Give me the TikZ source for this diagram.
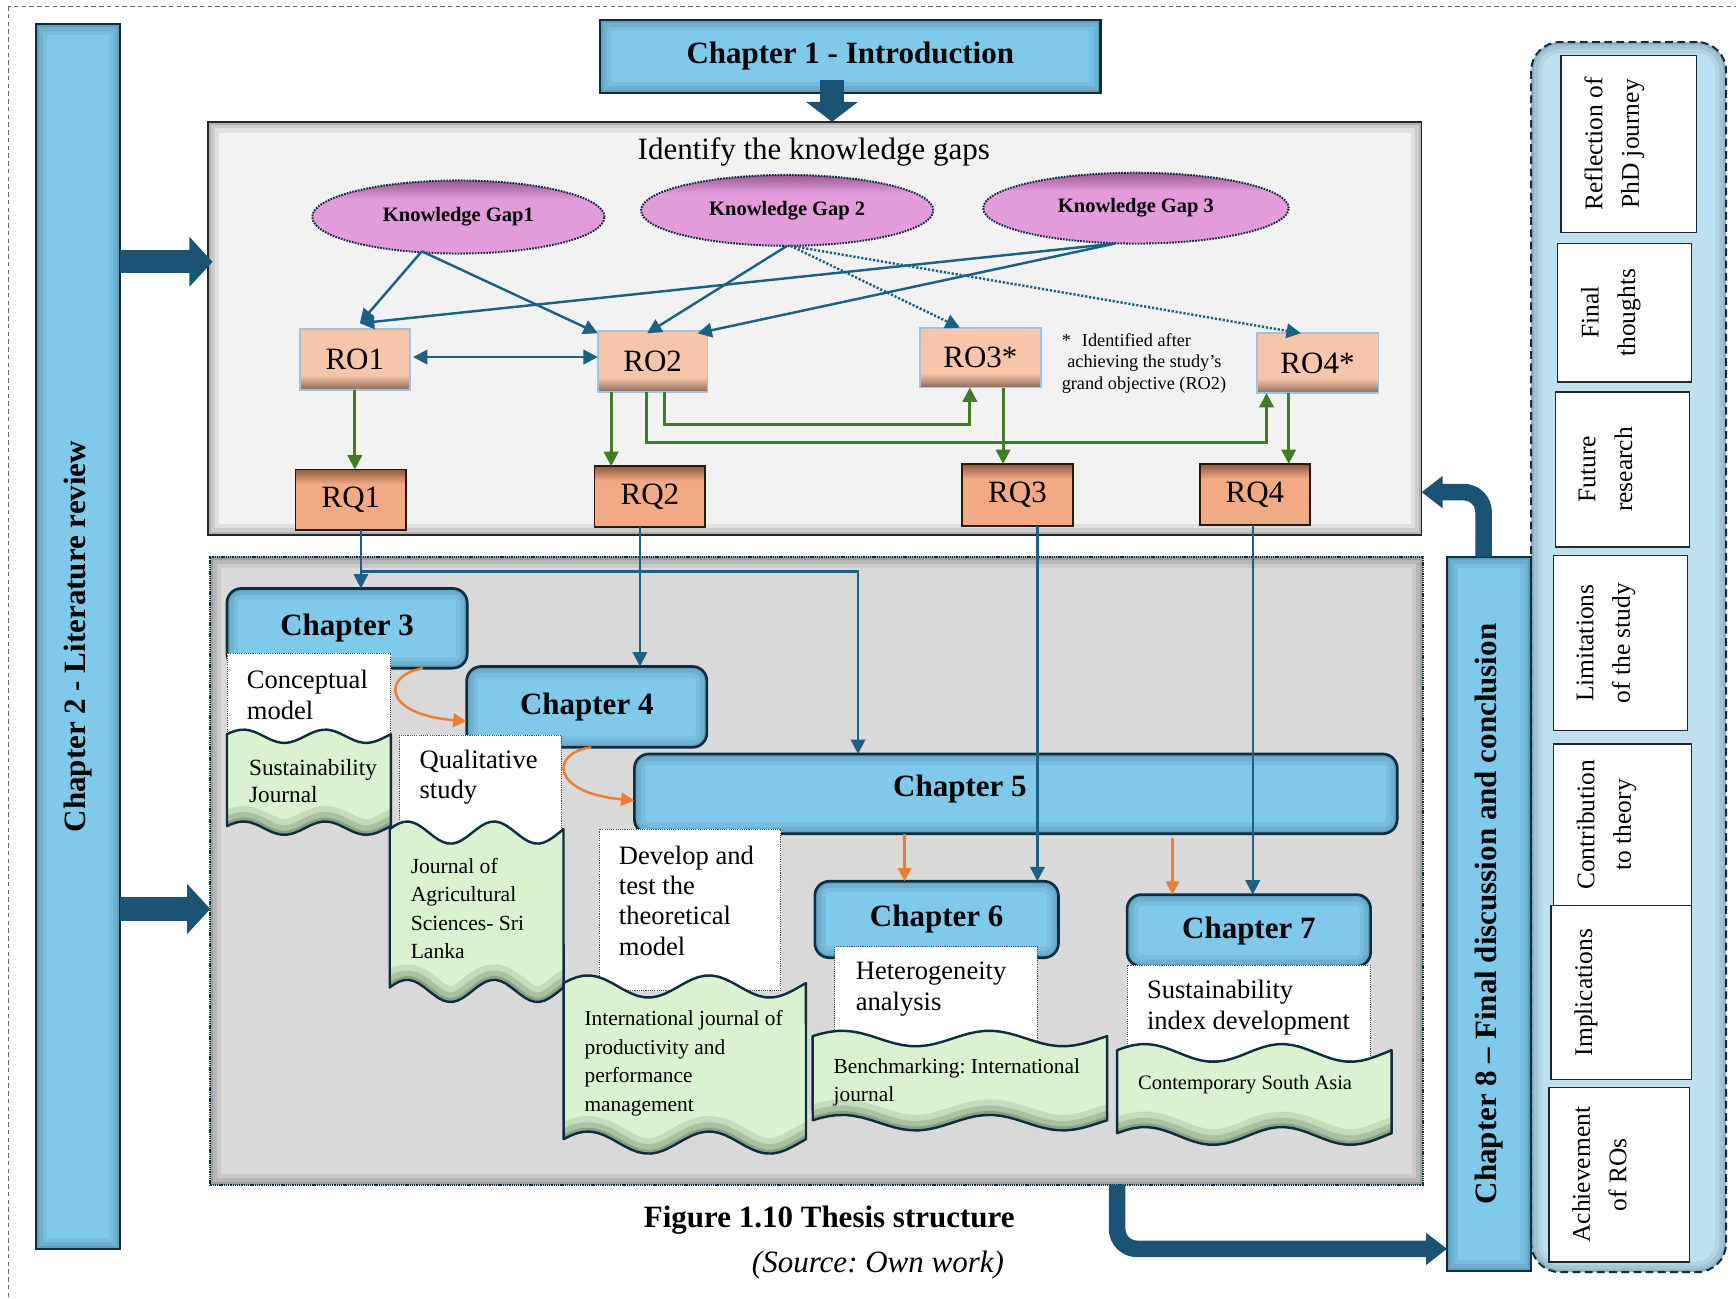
\documentclass[tikz,border=0pt]{standalone}
\usepackage{fontspec}
\setmainfont{Liberation Serif}
\usepackage{graphicx}
\usetikzlibrary{arrows.meta,shapes.geometric,calc}
\frenchspacing

\definecolor{chapblue}{HTML}{7FC9EA}
\definecolor{navy}{HTML}{0F2D40}
\definecolor{lineblue}{HTML}{1B6184}
\definecolor{arrgreen}{HTML}{3E7D22}
\definecolor{orng}{HTML}{ED7D31}
\definecolor{kgpink}{HTML}{E29BDB}
\definecolor{kgdark}{HTML}{9A5A94}
\definecolor{ropeach}{HTML}{F6C5AA}
\definecolor{robrown}{HTML}{8C6A58}
\definecolor{rqsalmon}{HTML}{F2AA84}
\definecolor{rqbrown}{HTML}{8A5A40}
\definecolor{docgreen}{HTML}{D9F2D0}
\definecolor{docdark}{HTML}{2F4A2C}
\definecolor{panelgray}{HTML}{F2F2F2}
\definecolor{panelgraydark}{HTML}{D9D9D9}
\definecolor{rpblue}{HTML}{BEE1F2}
\definecolor{blockblue}{HTML}{1A5373}
\definecolor{roedge}{HTML}{9DC3E6}

% vertical shadings (0bp = bottom, path box spans 25bp..75bp)
\pgfdeclareverticalshading{roshade}{100bp}{color(0bp)=(robrown); color(25bp)=(robrown); color(37bp)=(ropeach); color(100bp)=(ropeach)}
\pgfdeclareverticalshading{rqshade}{100bp}{color(0bp)=(rqsalmon); color(63bp)=(rqsalmon); color(75bp)=(rqbrown); color(100bp)=(rqbrown)}
\pgfdeclareverticalshading{kgshade}{100bp}{color(0bp)=(kgpink); color(62bp)=(kgpink); color(75bp)=(kgdark); color(100bp)=(kgdark)}

\tikzset{
  every node/.style={inner sep=0pt, outer sep=0pt},
  sz/.style 2 args={minimum width=#1pt, minimum height=#2pt},
  inshadow/.style 2 args={path picture={
      \draw[#1, solid, opacity=.07, line width=20pt, rounded corners=#2]
        (path picture bounding box.south west) rectangle (path picture bounding box.north east);
      \draw[#1, solid, opacity=.09, line width=12pt, rounded corners=#2]
        (path picture bounding box.south west) rectangle (path picture bounding box.north east);
      \draw[#1, solid, opacity=.12, line width=5pt, rounded corners=#2]
        (path picture bounding box.south west) rectangle (path picture bounding box.north east);}},
  sidebar/.style={draw=navy, line width=2pt, fill=chapblue,
      font=\fontsize{28}{32}\selectfont\bfseries, inshadow={navy}{0pt}},
  panel/.style={draw=black!85, line width=1.5pt, fill=panelgray, inshadow={black}{0pt}},
  botpanel/.style={draw=navy, line width=2pt, dash pattern=on 1.2pt off 0.8pt,
      fill=panelgraydark, inshadow={black}{0pt}},
  rpanel/.style={fill=rpblue, draw=navy, line width=1.8pt, dash pattern=on 7pt off 4pt,
      rounded corners=26pt, inshadow={navy}{26pt}},
  chap/.style={draw=navy, line width=2.4pt, fill=chapblue, rounded corners=13pt,
      font=\fontsize{28}{32}\selectfont\bfseries, inshadow={navy}{13pt}},
  kgEll/.style={ellipse, shade, shading=kgshade, draw=navy, line width=1.8pt,
      dash pattern=on 1.5pt off 1.1pt, font=\fontsize{18.5}{22}\selectfont\bfseries},
  roBox/.style={shade, shading=roshade, draw=roedge, line width=1.6pt,
      font=\fontsize{28}{32}\selectfont},
  rqBox/.style={shade, shading=rqshade, draw=black!80!brown, line width=1.6pt,
      font=\fontsize{28}{32}\selectfont},
  wbox/.style={fill=white, draw=black!70, line width=0.8pt, dash pattern=on 1pt off 1pt},
  tbig/.style={font=\fontsize{24}{27.5}\selectfont, align=left, anchor=west},
  tsm/.style={font=\fontsize{19.3}{25.7}\selectfont, align=left, anchor=west},
  itm/.style={fill=white, draw=black!85, line width=1.2pt},
  itxt/.style={font=\fontsize{23}{33}\selectfont, align=center, rotate=90, anchor=north},
  blueArr/.style={draw=lineblue, line width=2.2pt, -{Triangle[length=13pt,width=13pt]}},
  dotArr/.style={blueArr, dash pattern=on 2pt off 1.6pt},
  greenArr/.style={draw=arrgreen, line width=2.6pt, -{Triangle[length=13pt,width=13pt]}},
  orangeArr/.style={draw=orng, line width=2.2pt, -{Triangle[length=12pt,width=12pt]}},
  fatArr/.style={draw=blockblue, line width=21pt, -{Triangle[length=21pt,width=44pt]}},
  bentArr/.style={draw=blockblue, line width=15pt, rounded corners=18pt,
      -{Triangle[length=19pt,width=28pt]}},
}

% publication "double wave" banner: x0, x1, top wave level, bottom wave level, amplitude
\newcommand{\pubwave}[5]{%
  \begin{scope}
    \clip plot[domain=0:1,samples=37,variable=\t] ({#1+\t*(#2-#1)},{#3-#5*cos(720*(\t-0.1))})
      -- plot[domain=1:0,samples=37,variable=\t] ({#1+\t*(#2-#1)},{#4-#5*cos(720*(\t-0.1))}) -- cycle;
    \fill[docgreen] (#1-5,#3-3*#5) rectangle (#2+5,#4+3*#5);
    \foreach \w/\o in {28/0.13,17/0.18,7/0.25}{
      \draw[docdark, line width=\w pt, opacity=\o]
        plot[domain=-0.05:1.05,samples=41,variable=\t] ({#1+\t*(#2-#1)},{#4-#5*cos(720*(\t-0.1))});
    }
  \end{scope}
  \draw[navy, line width=2.2pt, line join=round]
    plot[domain=0:1,samples=37,variable=\t] ({#1+\t*(#2-#1)},{#3-#5*cos(720*(\t-0.1))})
    -- plot[domain=1:0,samples=37,variable=\t] ({#1+\t*(#2-#1)},{#4-#5*cos(720*(\t-0.1))}) -- cycle;
}

\begin{document}
\begin{tikzpicture}[x=1pt,y=-1pt]
\useasboundingbox (0,0) rectangle (1568,1173);
\clip (0,0) rectangle (1568,1173);
\fill[white] (0,0) rectangle (1568,1173);
\draw[black!60, line width=0.9pt, dash pattern=on 4pt off 3pt] (7.5,5.5) rectangle (1600,1200);

% ---------- frame elements ----------
\node[sidebar, sz={76}{1106}] (ch2) at (70.5,575) {\rotatebox{90}{Chapter 2 - Literature review}};
\node[panel, sz={1096}{373}] (top) at (736,296.5) {};
\node[botpanel, sz={1095}{567}] (bot) at (737.5,786.5) {};
\node[rpanel, sz={176}{1111}] (rp) at (1471,593.5) {};
\node[sidebar, sz={76}{645}] (ch8) at (1345,825.5) {\rotatebox{90}{Chapter 8 – Final discussion and conclusion}};
\node[sidebar, sz={452}{66}] (ch1) at (768,51) {Chapter 1 - Introduction};

% ---------- fat arrows ----------
\coordinate (in1) at ([xshift=4pt,yshift=60pt]top.west);
\coordinate (in2) at ([yshift=-34.5pt]bot.west);
\draw[fatArr] (ch2.east |- in1) -- (in1);
\draw[fatArr] (ch2.east |- in2) -- (in2);
\draw[fatArr, line width=22pt, -{Triangle[length=18pt,width=46pt]}]
  ([xshift=-16.5pt,yshift=12pt]ch1.south) -- ([xshift=-16.5pt]ch1.south |- top.north);
\draw[bentArr] ([xshift=-5pt]ch8.north) |- ([yshift=38.5pt]top.south east);
\draw[bentArr] ([xshift=271.5pt]bot.south) |- ([yshift=-302.5pt]ch8.west);

% ---------- knowledge gaps, objectives, questions ----------
\node[font=\fontsize{28}{32}\selectfont] (gaps) at (735,137) {Identify the knowledge gaps};
\node[kgEll, sz={264}{66}] (kg1) at (414,196) {Knowledge Gap1};
\node[kgEll, sz={264}{64}] (kg2) at (711,190) {Knowledge Gap 2};
\node[kgEll, sz={276}{64}] (kg3) at (1026,188) {Knowledge Gap 3};

\node[roBox, sz={99}{55}] (ro1) at (320.5,324.5) {RO1};
\node[roBox, sz={99}{55}] (ro2) at (589.5,326.5) {RO2};
\node[roBox, sz={109}{54}] (ro3) at (885.5,323) {RO3*};
\node[roBox, sz={110}{54}] (ro4) at (1190,328) {RO4*};

\node[rqBox, sz={100}{55}] (rq1) at (317,451.5) {RQ1};
\node[rqBox, sz={100}{55}] (rq2) at (587,448.5) {RQ2};
\node[rqBox, sz={100}{56}] (rq3) at (919,447) {RQ3};
\node[rqBox, sz={99}{55}] (rq4) at (1133.5,446.5) {RQ4};

\node[font=\fontsize{16.5}{19.5}\selectfont, align=left, anchor=west] (note) at (959,328)
  {*\hspace{10pt}Identified after\\\hspace{5pt}achieving the study’s\\grand objective (RO2)};

\coordinate (f1) at ([xshift=-33pt,yshift=2pt]kg1.south);
\coordinate (f2) at ([xshift=3pt]kg2.south);
\coordinate (f3) at ([xshift=-19pt]kg3.south);
\draw[blueArr] (f1) -- ([xshift=4.5pt,yshift=5pt]ro1.north);
\draw[blueArr] (f1) -- ([yshift=-2pt]ro2.north west);
\draw[blueArr] (f3) -- ([xshift=4.5pt,yshift=5pt]ro1.north);
\draw[blueArr] (f3) -- ([xshift=-9pt,yshift=-2pt]ro2.north east);
\draw[blueArr] (kg2.south) -- ([xshift=-5pt,yshift=-2pt]ro2.north);
\draw[dotArr] (f2) -- ([xshift=-18.5pt]ro3.north);
\draw[dotArr] (f2) -- ([xshift=-15pt]ro4.north);
\draw[blueArr, {Triangle[length=13pt,width=13pt]}-{Triangle[length=13pt,width=13pt]}]
  ([xshift=3pt,yshift=2pt]ro1.east) -- ([yshift=2pt]ro1.east -| ro2.west);

\draw[greenArr] (ro1.south) -- (ro1.south |- rq1.north);
\draw[greenArr] ([xshift=-37.5pt]ro2.south) -- ([xshift=-37.5pt]ro2.south |- rq2.north);
\draw[greenArr] ([xshift=20.5pt]ro3.south) -- ([xshift=20.5pt]ro3.south |- rq3.north);
\draw[greenArr] ([xshift=-26pt]ro4.south) -- ([xshift=-26pt]ro4.south |- rq4.north);
\draw[greenArr] ([xshift=11pt]ro2.south) -- ++(0,29.5) -| ([xshift=-9.5pt]ro3.south);
\draw[greenArr] ([xshift=-5.5pt]ro2.south) -- ++(0,46) -| ([xshift=-46pt]ro4.south);

% ---------- chapters 3 to 7 with their publications ----------
\node[chap, sz={217}{72}] (ch3) at (313.5,567.5) {Chapter 3};
\node[wbox, sz={148}{90}, anchor=north west] (w3) at (205,590) {};
\pubwave{205}{353}{665}{748}{6}
\node[tbig] (t3) at (223,627.5) {Conceptual\\model};
\node[tsm, font=\fontsize{21}{25}\selectfont] (p3) at (225,705.5) {Sustainability\\Journal};

\node[chap, sz={217}{73}] (ch4) at (530,638.5) {Chapter 4};
\node[wbox, sz={146}{106}, anchor=north west] (w4) at (361,664) {};
\pubwave{352}{509}{752}{895}{10}
\node[tbig] (t4) at (379,702) {Qualitative\\study};
\node[tsm, font=\fontsize{19.5}{25.7}\selectfont] (p4) at (371,820.5) {Journal of\\Agricultural\\Sciences- Sri\\Lanka};

\node[chap, sz={689}{72}] (ch5) at (917.5,717) {};
\node[font=\fontsize{28}{32}\selectfont\bfseries] (ch5t) at (867,713) {Chapter 5};
\node[wbox, sz={164}{146}, anchor=north west] (w5) at (541,749) {};
\pubwave{509}{728}{891}{1032}{10}
\node[tbig] (t5) at (559,813.5) {Develop and\\test the\\theoretical\\model};
\node[tsm] (p5) at (528,960.5) {International journal of\\productivity and\\performance\\management};

\node[chap, sz={220}{69}] (ch6) at (846,830.5) {Chapter 6};
\node[wbox, sz={183}{90}, anchor=north west] (w6) at (754,855) {};
\pubwave{734}{1000}{938}{1014}{7}
\node[tbig] (t6) at (773,893.5) {Heterogeneity\\analysis};
\node[tsm] (p6) at (753,977.5) {Benchmarking: International\\journal};

\node[chap, sz={220}{65}] (ch7) at (1128,840.5) {Chapter 7};
\node[wbox, sz={220}{86}, anchor=north west] (w7) at (1018,872) {};
\pubwave{1009}{1257}{951}{1026}{8}
\node[tbig] (t7) at (1036,910) {Sustainability\\index development};
\node[tsm, font=\fontsize{18.5}{22}\selectfont] (p7) at (1028,980) {Contemporary South Asia};

% ---------- research questions into chapters ----------
\coordinate (j1) at (326,516);
\draw[blueArr] ([xshift=9pt]rq1.south) -- ([xshift=9pt]rq1.south |- ch3.north);
\draw[blueArr] (j1) -| ([xshift=-142.5pt]ch5.north);
\draw[blueArr] ([xshift=-9pt]rq2.south) -- ([xshift=-9pt]rq2.south |- ch4.north);
\draw[blueArr] ([xshift=18pt]rq3.south) -- ([xshift=18pt]rq3.south |- ch6.north);
\draw[blueArr] ([xshift=-2pt]rq4.south) -- ([xshift=-2pt]rq4.south |- ch7.north);

\draw[orangeArr] ([xshift=68.5pt]ch3.south) .. controls +(-37,6.5) and +(-76.5,-6.5) .. ([yshift=-13pt]ch4.west);
\draw[orangeArr] ([xshift=4pt]ch4.south) .. controls +(-37,5) and +(-76,-7) .. ([yshift=-6pt]ch5.west);
\draw[orangeArr] ([xshift=-100.5pt]ch5.south) -- ([xshift=-100.5pt]ch5.south |- ch6.north);
\draw[orangeArr] ([xshift=141.5pt,yshift=-4pt]ch5.south) -- ([xshift=141.5pt]ch5.south |- ch7.north);

% ---------- chapter 8 contents ----------
\node[itm, sz={122}{160}] (i1) at (1471,130) {};
\node[itxt] (i1t) at ([xshift=21pt]i1.west) {Reflection of\\PhD journey};
\node[itm, sz={121}{125}] (i2) at (1467.5,282.5) {};
\node[itxt] (i2t) at ([xshift=21pt]i2.west) {Final\\thoughts};
\node[itm, sz={121}{140}] (i3) at (1465.5,424) {};
\node[itxt] (i3t) at ([xshift=21pt]i3.west) {Future\\research};
\node[itm, sz={121}{158}] (i4) at (1463.5,581) {};
\node[itxt] (i4t) at ([xshift=21pt]i4.west) {Limitations\\of the study};
\node[itm, sz={125}{146}] (i5) at (1465.5,745) {};
\node[itxt] (i5t) at ([xshift=21pt]i5.west) {Contribution\\to theory};
\node[itm, sz={127}{157}] (i6) at (1464.5,896.5) {};
\node[itxt] (i6t) at ([xshift=21pt]i6.west) {Implications};
\node[itm, sz={127}{158}] (i7) at (1462.5,1061) {};
\node[itxt] (i7t) at ([xshift=21pt]i7.west) {Achievement\\of ROs};

% ---------- caption ----------
\node[font=\fontsize{28}{32}\selectfont\bfseries] (cap) at (749,1102) {Figure 1.10 Thesis structure};
\node[font=\fontsize{28}{32}\selectfont\itshape] (src) at (793,1143) {(Source: Own work)};
\end{tikzpicture}
\end{document}
